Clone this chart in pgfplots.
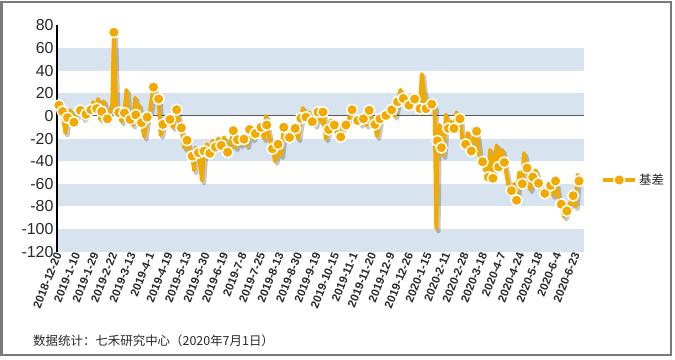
\documentclass[border=0pt]{standalone}
\usepackage{fontspec}
\setmainfont{Liberation Sans}
\newfontfamily\cjk{Noto Sans CJK SC}
\usepackage{pgfplots}
\pgfplotsset{compat=1.18}
\usepackage{pgfplotstable}
\definecolor{orng}{RGB}{242,170,0}
\definecolor{band}{RGB}{215,227,239}
\definecolor{txt}{RGB}{40,40,40}

\pgfplotstableread{
x y
0 9.5
2.5 4
4.5 -15
6 -1.5
8 5
10.5 -5.5
13 3
15 5
17 -2
19 1.5
21 8
22.5 5.5
24 12
26.5 6.5
27.5 15
29 -3
30 4
31.5 13
33 -4
34 -2.5
36 5
37.5 10
38.6 74
40 10
42 3
44 -5
46 2.7
47.5 23
49 -5
50 -3
52 -8
53.5 16
54 1
56 10
58 -6
60 -18.5
62 -1
64 5
66.4 25.5
68 20
70 15
71.5 -17
73 -7.5
75 -5
78 -3
80 -10
82.7 5.5
84 -3
86 -10.5
88 -28
90 -21.5
91.5 -30
93.6 -35.5
95 -48
96 -28
98 -32.5
99.5 -45
100.5 -57
102 -31
104 -25
106 -33
108 -22
110 -27.5
112 -20
114 -26
116 -19
118.5 -32
120 -28
122.5 -13
124 -28
125.5 -21
127.5 -25
130 -20.5
132 -26
134 -12
136 -20
138 -15.5
140 -7
142 -10
144 -20
145.5 0
146 -8
148 -20
150 -29
152 -40
154 -25
156 -35
158 -10
160 -17
162 -19
164 -8
166 -11
168 -20
170 -2
171.5 7
173.6 -1
176 3
178 -5
180 -8
182 3.5
184 -5
185.5 3.5
187.5 -20
189.5 -12
191 -4
193.5 -8
195 -14
198 -18.5
199.5 -5
201.7 -8
203.5 -3
206 5.5
208 -4
210 -4
212 -7
214 -2.5
216 -8
218 5
220 -4
222 -7.5
223.5 -18
225.6 -2.5
227.5 2
229.8 0.5
231.5 7
233.8 5.5
236 0
238 12.5
240 23
242 15.5
244 10
246 9.5
248 18
250 15
252 12
253.7 6.5
255 37
256.5 20
258 6.5
260 14
262 10.5
264 8
265.2 -99.5
266 -22
267.5 -8
268.8 -28
270 -35
272 1
273.6 -11
275.5 -5
277.6 -11
279.5 3
281.8 -2.5
283.5 -20
285.8 -25
287.5 -15
289.8 -31
291.5 -20
293.5 -13.5
295.5 -35
297.7 -40.5
299.5 -48
301.7 -54
303 -30
305 -55
307.6 -26
309 -45
311.5 -30
313 -41
315 -55
316.5 -66
318 -66
320 -60
321.6 -74.5
323.5 -50
325.6 -60
326.8 -33
329 -46
331 -65
333 -54
335 -48
337 -59.5
339.5 -66
341.5 -68.5
343.5 -60
345.5 -61.5
347 -70
349 -57.5
351 -72
353 -78
355 -89
357 -84
359 -78
361.4 -70.5
363 -80
364.5 -52
365.5 -57.5
}\linedata

\pgfplotstableread{
x y
0 9.5
2.5 4
6 -1.5
10.5 -5.5
15 5
19 1.5
22.5 5.5
26.5 6.5
30 4
34 -2.5
38.6 74
42 3
46 2.7
50 -3
54 1
58 -6
62 -1
66.4 25.5
70 15
73 -7.5
78 -3
82.7 5.5
86 -10.5
90 -21.5
93.6 -35.5
98 -32.5
102 -31
106 -33
110 -27.5
114 -26
118.5 -32
122.5 -13
125.5 -21
130 -20.5
134 -12
138 -15.5
142 -10
146 -8
150 -29
154 -25
158 -10
162 -19
166 -11
170 -2
173.6 -1
178 -5
182 3.5
185.5 3.5
189.5 -12
193.5 -8
198 -18.5
201.7 -8
206 5.5
210 -4
214 -2.5
218 5
222 -7.5
225.6 -2.5
229.8 0.5
233.8 5.5
238 12.5
242 15.5
246 9.5
250 15
253.7 6.5
258 6.5
262 10.5
266 -22
268.8 -28
273.6 -11
277.6 -11
281.8 -2.5
285.8 -25
289.8 -31
293.5 -13.5
297.7 -40.5
301.7 -54
305 -55
309 -45
313 -41
318 -66
321.6 -74.5
325.6 -60
329 -46
333 -54
337 -59.5
341.5 -68.5
345.5 -61.5
349 -57.5
353 -78
357 -84
361.4 -70.5
365.5 -57.5
}\markdata

\begin{document}
\begin{tikzpicture}
\path[use as bounding box] (0,0) rectangle (675bp,360bp);
\draw[gray!95!black, line width=2bp] (1.5bp,4.5bp) rectangle (671bp,357.5bp);
\begin{axis}[
  at={(57bp,108.3bp)}, anchor=south west,
  scale only axis, width=527bp, height=226.2bp,
  xmin=-1.4, xmax=369, ymin=-120, ymax=80,
  ytick={-120,-100,...,80},
  xtick={0,13,...,364},
  xticklabels={2018-12-20,2019-1-10,2019-1-29,2019-2-22,2019-3-13,2019-4-1,2019-4-19,2019-5-13,2019-5-30,2019-6-19,2019-7-8,2019-7-25,2019-8-13,2019-8-30,2019-9-19,2019-10-15,2019-11-1,2019-11-20,2019-12-9,2019-12-26,2020-1-15,2020-2-11,2020-2-28,2020-3-18,2020-4-7,2020-4-24,2020-5-18,2020-6-4,2020-6-23},
  axis line style={draw=none},
  major tick length=0pt,
  tick style={draw=none},
  xtick pos=bottom, ytick pos=left,
  /pgf/number format/assume math mode=true,
  yticklabel style={font=\fontsize{16}{18}\selectfont, text=txt},
  xticklabel style={font=\bfseries\fontsize{11.5}{13}\selectfont, text=txt, rotate=68, anchor=east, inner sep=1.5bp},
  legend style={at={(1.0266,0.317)}, anchor=west, draw=none, fill=none, text=txt, font=\fontsize{12.5}{14}\selectfont},
  legend image code/.code={\draw[orng, line width=4bp] (0bp,0bp) -- (32bp,0bp); \fill[orng, draw=white, line width=1.5bp] (16bp,0bp) circle (5.5bp);},
  clip=false,
]
\fill[band] (axis cs:-1.4,40) rectangle (axis cs:369,60);
\fill[band] (axis cs:-1.4,0) rectangle (axis cs:369,20);
\fill[band] (axis cs:-1.4,-20) rectangle (axis cs:369,-40);
\fill[band] (axis cs:-1.4,-60) rectangle (axis cs:369,-80);
\fill[band] (axis cs:-1.4,-100) rectangle (axis cs:369,-120);
\draw[black!65, line width=1bp] (axis cs:-1.4,0) -- (axis cs:369,0);
\draw[black, line width=2bp] (axis cs:-1.4,-120) -- (axis cs:-1.4,80);
\addplot[forget plot, draw=black, opacity=0.22, line width=4.5bp, line join=round, xshift=2bp, yshift=-2.5bp, no marks] table {\linedata};
\addplot[forget plot, draw=orng, line width=4bp, line join=round, no marks] table {\linedata};
\addplot[only marks, mark=*, mark size=5.5bp, mark options={fill=orng, draw=white, line width=1.5bp}] table {\markdata};
\addlegendentry{\cjk 基差}
\end{axis}
\node[anchor=west, text=txt, font=\cjk\fontsize{12.5}{14}\selectfont, inner sep=0pt] at (33bp,19bp) {数据统计：七禾研究中心（2020年7月1日）};
\end{tikzpicture}
\end{document}
